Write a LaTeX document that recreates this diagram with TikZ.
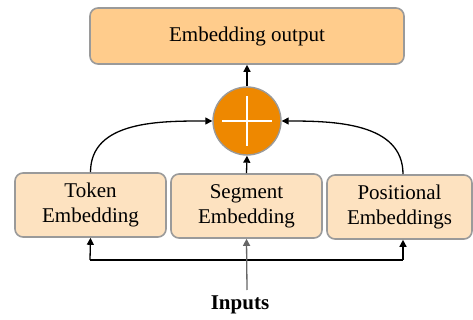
\documentclass[tikz,border=0pt]{standalone}
\usepackage{fontspec}
\setmainfont{Liberation Serif}
\usetikzlibrary{arrows.meta,calc}
\definecolor{topfill}{HTML}{FFCC8C}
\definecolor{boxfill}{HTML}{FDE2C0}
\definecolor{bordergray}{HTML}{9A9A9A}
\definecolor{plusorange}{HTML}{EE8800}
\tikzset{
  x=1pt, y=-1pt,
  emb/.style={draw=bordergray, line width=1.6pt, rounded corners=8pt, fill=boxfill,
    inner sep=0pt, align=center, font=\fontsize{21}{25}\selectfont},
  conn/.style={line width=1.3pt, -{Triangle[length=7pt,width=7pt]}},
}
\begin{document}
\begin{tikzpicture}
\useasboundingbox (0,0) rectangle (473,320);
% top box
\node[emb, fill=topfill, minimum width=314pt, minimum height=56pt] (out) at (247,36) {Embedding output};
% adder
\node[circle, draw=bordergray, line width=1.4pt, fill=plusorange, minimum size=68pt, inner sep=0pt] (add) at (247,121) {};
\draw[white, line width=2.2pt] ($(add.center)+(-25,0)$) -- ($(add.center)+(25,0)$);
\draw[white, line width=2.2pt] ($(add.center)+(0,-25)$) -- ($(add.center)+(0,25)$);
% bottom boxes
\node[emb, minimum width=151pt, minimum height=64pt] (tok) at (90.5,205) {Token\\Embedding};
\node[emb, minimum width=151pt, minimum height=64pt] (seg) at (246.5,206) {Segment\\Embedding};
\node[emb, minimum width=145pt, minimum height=64pt] (pos) at (399.5,207) {Positional\\Embeddings};
% inputs
\node[font=\fontsize{21}{24}\selectfont\bfseries, inner sep=0pt] (inp) at (240,305) {Inputs};
\coordinate (inpt) at (247,290);
\coordinate (hl) at (90,260);
\coordinate (hr) at (403,260);
% connectors
\draw[conn] (add.north) -- (out.south);
\draw[conn] (seg.north) -- (add.south);
\draw[conn] (tok.north) to[out=90, in=180] (add.west);
\draw[conn] (pos.north -| hr) to[out=90, in=0] (add.east);
\draw[line width=1.3pt] (hl) -- (hr);
\draw[conn] (hl) -- (tok.south);
\draw[conn] (hr) -- (pos.south -| hr);
\draw[conn, draw=gray!80!black, -{Triangle[length=7pt,width=7pt,fill=gray!80!black]}] (inpt) -- (seg.south);
\end{tikzpicture}
\end{document}
